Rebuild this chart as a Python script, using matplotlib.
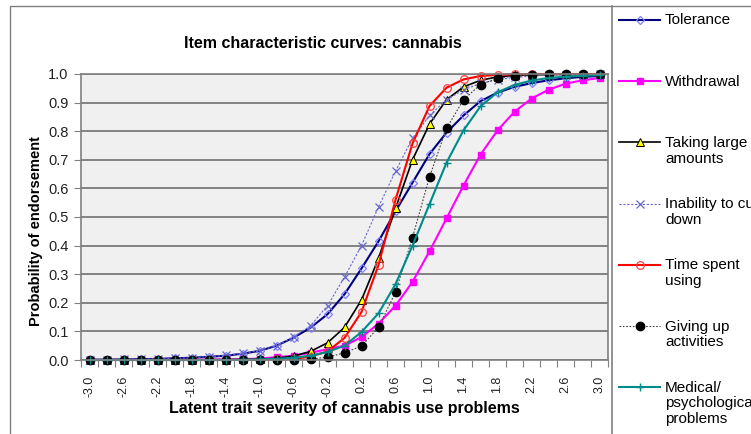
import numpy as np
import matplotlib
matplotlib.use('Agg')
import matplotlib.pyplot as plt
from matplotlib.lines import Line2D
from matplotlib.patches import Rectangle

plt.rcParams['font.family'] = ['Liberation Sans', 'DejaVu Sans']

# latent trait grid (category axis)
theta = [-3.0, -2.8, -2.6, -2.4, -2.2, -2.0, -1.8, -1.6, -1.4, -1.2, -1.0,
         -0.8, -0.6, -0.4, -0.2, 0.0, 0.2, 0.4, 0.6, 0.8, 1.0,
         1.2, 1.4, 1.6, 1.8, 2.0, 2.2, 2.4, 2.6, 2.8, 3.0]

tolerance = [0.001, 0.0015, 0.002, 0.003, 0.004, 0.006, 0.008, 0.011, 0.015, 0.022, 0.032,
             0.05, 0.078, 0.113, 0.16, 0.23, 0.32, 0.415, 0.52, 0.62, 0.72,
             0.795, 0.855, 0.905, 0.935, 0.955, 0.968, 0.978, 0.985, 0.99, 0.993]
withdrawal = [0.0001, 0.0001, 0.0002, 0.0003, 0.0004, 0.0006, 0.0009, 0.0013, 0.002, 0.003, 0.005,
              0.01, 0.015, 0.025, 0.038, 0.05, 0.08, 0.127, 0.19, 0.273, 0.38,
              0.495, 0.61, 0.718, 0.803, 0.868, 0.914, 0.945, 0.966, 0.978, 0.986]
taking_large = [0.0, 0.0, 0.0, 0.0, 0.0, 0.0, 0.0005, 0.001, 0.001, 0.002, 0.003,
                0.006, 0.014, 0.03, 0.06, 0.114, 0.21, 0.355, 0.53, 0.70, 0.825,
                0.91, 0.955, 0.978, 0.99, 0.995, 0.997, 0.998, 0.999, 0.9995, 1.0]
inability = [0.001, 0.0015, 0.002, 0.003, 0.004, 0.006, 0.008, 0.011, 0.016, 0.023, 0.033,
             0.05, 0.08, 0.12, 0.19, 0.29, 0.40, 0.535, 0.66, 0.775, 0.855,
             0.91, 0.945, 0.967, 0.98, 0.988, 0.993, 0.996, 0.997, 0.998, 0.999]
time_spent = [0.0, 0.0, 0.0, 0.0, 0.0, 0.0, 0.0, 0.0, 0.0, 0.0005, 0.001,
              0.002, 0.004, 0.012, 0.03, 0.077, 0.168, 0.332, 0.56, 0.757, 0.888,
              0.952, 0.981, 0.993, 0.997, 0.999, 1.0, 1.0, 1.0, 1.0, 1.0]
giving_up = [0.0, 0.0, 0.0, 0.0, 0.0, 0.0, 0.0, 0.0, 0.0, 0.0, 0.0,
             0.0005, 0.001, 0.003, 0.01, 0.025, 0.049, 0.114, 0.237, 0.428, 0.64,
             0.81, 0.91, 0.963, 0.985, 0.993, 0.997, 0.999, 0.9995, 1.0, 1.0]
medical = [0.0, 0.0, 0.0, 0.0, 0.0, 0.0, 0.0, 0.0, 0.0, 0.001, 0.002,
           0.004, 0.008, 0.015, 0.028, 0.05, 0.098, 0.163, 0.265, 0.40, 0.545,
           0.69, 0.803, 0.887, 0.936, 0.962, 0.977, 0.986, 0.991, 0.994, 0.996]

series = [
    ('Tolerance', tolerance,
     dict(color='#000080', lw=1.5, marker='D', ms=4, mfc='none', mec='#8080ff', mew=0.9)),
    ('Withdrawal', withdrawal,
     dict(color='#ff00ff', lw=1.5, marker='s', ms=4.5, mfc='#ff00ff', mec='#ff00ff')),
    ('Taking large\namounts', taking_large,
     dict(color='#000000', lw=1.2, marker='^', ms=6, mfc='#ffff00', mec='#000000', mew=0.7)),
    ('Inability to cut\ndown', inability,
     dict(color='#6666cc', lw=0.8, ls=(0, (2, 1.5)), marker='x', ms=6, mec='#6666cc', mew=0.9)),
    ('Time spent\nusing', time_spent,
     dict(color='#ff0000', lw=1.5, marker='o', ms=5.5, mfc='none', mec='#ff4040', mew=0.9)),
    ('Giving up\nactivities', giving_up,
     dict(color='#404040', lw=0.8, ls=(0, (1.5, 1.5)), marker='o', ms=6, mfc='#000000', mec='#000000')),
    ('Medical/\npsychological\nproblems', medical,
     dict(color='#008b8b', lw=1.5, marker='+', ms=6, mec='#008b8b', mew=1.0)),
]

W, H = 751, 434
fig = plt.figure(figsize=(W / 100, H / 100), dpi=100)
fig.patch.set_facecolor('white')

def fx(px):
    return px / W

def fy(py):
    return 1 - py / H

ax = fig.add_axes([fx(81), fy(360), (608 - 81) / W, (360 - 74) / H])
ax.set_facecolor('#f0f0f0')

idx = np.arange(len(theta))
for label, vals, style in series:
    ax.plot(idx, vals, clip_on=False, **style)

ax.set_xlim(-0.5, len(theta) - 0.5)
ax.set_ylim(0, 1)

# y axis
ax.set_yticks(np.arange(0, 1.01, 0.1))
ax.set_yticklabels(['%.1f' % v for v in np.arange(0, 1.01, 0.1)], fontsize=10.5, color='#222222')
ax.yaxis.grid(True, color='#7a7a7a', lw=1.3)
ax.set_axisbelow(True)
ax.tick_params(axis='y', direction='out', length=5, color='#808080', pad=4)

# x axis: ticks between categories, labels on every other category
ax.set_xticks(np.arange(-0.5, len(theta), 1))
ax.set_xticklabels([])
ax.set_xticks(idx[::2], minor=True)
ax.set_xticklabels(['%.1f' % t for t in theta[::2]], minor=True, rotation=90,
                   fontsize=9, color='#222222')
ax.tick_params(axis='x', which='major', direction='out', length=5, color='#808080')
ax.tick_params(axis='x', which='minor', length=0, pad=11)

for side in ['left', 'bottom', 'right', 'top']:
    ax.spines[side].set_color('#808080')
    ax.spines[side].set_linewidth(1.2)

fig.text(fx(323), fy(44), 'Item characteristic curves: cannabis',
         ha='center', va='center', fontsize=11.5, fontweight='bold')
fig.text(fx(344), fy(408), 'Latent trait severity of cannabis use problems',
         ha='center', va='center', fontsize=11.5, fontweight='bold')
fig.text(fx(36), fy(231), 'Probability of endorsement', rotation=90,
         ha='center', va='center', fontsize=10.5, fontweight='bold')

# chart frame and legend box
fig.add_artist(Rectangle((fx(10), -0.05), 1.2, fy(6) + 0.05, transform=fig.transFigure,
                         fill=False, edgecolor='#808080', lw=1))
fig.add_artist(Line2D([fx(612), fx(612)], [fy(6), -0.05], transform=fig.transFigure,
                      color='#808080', lw=1.2))

# legend entries
for i, (label, vals, style) in enumerate(series):
    y = 20 + 61.2 * i
    fig.add_artist(Line2D([fx(619), fx(640), fx(660)], [fy(y)] * 3, transform=fig.transFigure,
                          markevery=[1], **style))
    fig.text(fx(665), fy(y - 6.5), label, ha='left', va='top', fontsize=11, linespacing=1.15)

fig.savefig('out.png', dpi=100)
